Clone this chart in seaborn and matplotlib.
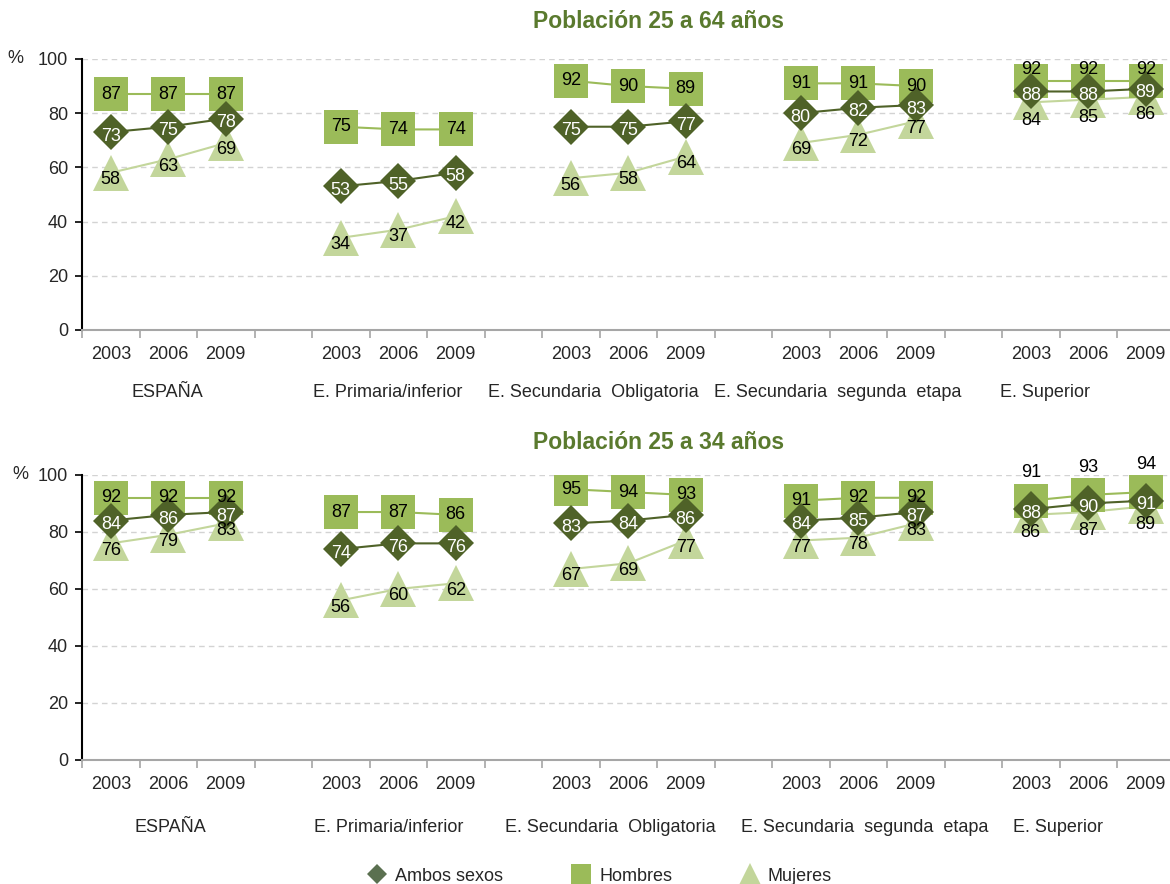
import pandas as pd
import seaborn as sns
import matplotlib.pyplot as plt
from matplotlib.lines import Line2D

# datos
anios = ["2003", "2006", "2009"]
grupos = ["ESPAÑA", "E. Primaria/inferior", "E. Secundaria  Obligatoria",
          "E. Secundaria  segunda  etapa", "E. Superior"]
series = ["Ambos sexos", "Hombres", "Mujeres"]

# Poblacion 25 a 64 anos
ambos_64 = [73, 75, 78, 53, 55, 58, 75, 75, 77, 80, 82, 83, 88, 88, 89]
hombres_64 = [87, 87, 87, 75, 74, 74, 92, 90, 89, 91, 91, 90, 92, 92, 92]
mujeres_64 = [58, 63, 69, 34, 37, 42, 56, 58, 64, 69, 72, 77, 84, 85, 86]

# Poblacion 25 a 34 anos
ambos_34 = [84, 86, 87, 74, 76, 76, 83, 84, 86, 84, 85, 87, 88, 90, 91]
hombres_34 = [92, 92, 92, 87, 87, 86, 95, 94, 93, 91, 92, 92, 91, 93, 94]
mujeres_34 = [76, 79, 83, 56, 60, 62, 67, 69, 77, 77, 78, 83, 86, 87, 89]

colores = {"Ambos sexos": "#4F6228", "Hombres": "#9BBB59", "Mujeres": "#C3D69B"}
marcadores = {"Ambos sexos": ("D", 18.5), "Hombres": ("s", 25), "Mujeres": ("^", 26)}
color_texto = {"Ambos sexos": "white", "Hombres": "black", "Mujeres": "black"}
desplaz = {"Ambos sexos": -3, "Hombres": 0, "Mujeres": -5}  # puntos


def hacer_df(ambos, hombres, mujeres):
    filas = []
    for s, vals in zip(series, [ambos, hombres, mujeres]):
        for i, v in enumerate(vals):
            g = i // 3
            filas.append({"serie": s, "grupo": grupos[g], "anio": anios[i % 3],
                          "pos": g * 4 + i % 3, "valor": v})
    return pd.DataFrame(filas)


paneles = [
    ("Población 25 a 64 años", hacer_df(ambos_64, hombres_64, mujeres_64),
     [82 / 1170, 0.6267, 0.9338, 0.3066], [0.99, 4.82, 8.40, 12.64, 16.24], 8),
    ("Población 25 a 34 años", hacer_df(ambos_34, hombres_34, mujeres_34),
     [82 / 1170, 0.1403, 0.9338, 0.3224], [1.03, 4.83, 8.68, 13.11, 16.47], 20),
]

sns.set_theme(style="white")
plt.rcParams["font.family"] = ["Liberation Sans", "DejaVu Sans"]

fig = plt.figure(figsize=(11.7, 8.84), dpi=100)

for titulo, df, rect, pos_grupos, off_sup in paneles:
    arriba = off_sup == 8
    ax = fig.add_axes(rect)
    # dibujamos primero mujeres, luego hombres y encima ambos sexos
    for s in ["Mujeres", "Hombres", "Ambos sexos"]:
        m, ms = marcadores[s]
        sns.lineplot(data=df[df.serie == s], x="pos", y="valor", units="grupo",
                     estimator=None, color=colores[s], marker=m, markersize=ms,
                     markeredgewidth=0, linewidth=1.5, ax=ax, legend=False)
    # etiquetas de valores
    for _, r in df.iterrows():
        dy = desplaz[r.serie]
        if r.grupo == "E. Superior" and r.serie == "Hombres":
            dy = off_sup
        elif r.grupo == "E. Superior" and r.serie == "Mujeres":
            dy = -13
        ax.annotate(str(r.valor), (r.pos, r.valor), xytext=(0, dy),
                    textcoords="offset points", ha="center", va="center",
                    fontsize=13, color=color_texto[r.serie], zorder=10)

    ax.set_xlim(-0.5, 18.5)
    ax.set_ylim(0, 100)
    ax.set_yticks(range(0, 101, 20))
    ax.set_xticks([x - 0.5 for x in range(20)])
    ax.set_xticklabels([])
    ax.set_xlabel("")
    ax.set_ylabel("")
    for y in range(20, 101, 20):
        ax.axhline(y, color="#D3D3D3", linestyle=(0, (4, 3)), linewidth=1, zorder=0)
    for lado in ["top", "right"]:
        ax.spines[lado].set_visible(False)
    ax.spines["left"].set_color("black")
    ax.spines["left"].set_linewidth(1.5)
    ax.spines["bottom"].set_color("#A6A6A6")
    ax.spines["bottom"].set_linewidth(1.5)
    ax.tick_params(axis="y", left=True, length=5, width=1.2, color="black",
                   labelsize=13, pad=5)
    ax.tick_params(axis="x", bottom=True, length=6, width=1.2, color="#A6A6A6")

    # etiquetas de anios y grupos debajo del eje
    trans = ax.get_xaxis_transform()
    alto = rect[3] * 884
    for g in range(len(grupos)):
        for k, a in enumerate(anios):
            ax.text(g * 4 + k, -25 / alto, a, transform=trans, ha="center",
                    va="center", fontsize=13)
        ax.text(pos_grupos[g], (-63 if arriba else -68) / alto, grupos[g],
                transform=trans, ha="center", va="center", fontsize=13)

    fig.text(0.563, rect[1] + rect[3] + (37 if arriba else 32) / 884, titulo,
             ha="center", va="center", fontsize=16.5, fontweight="bold",
             color="#5A7A2E")
    fig.text((15 if arriba else 20) / 1170, rect[1] + rect[3], "%",
             ha="center", va="center", fontsize=13)

tam_leyenda = {"Ambos sexos": 10, "Hombres": 14.5, "Mujeres": 16}
handles = [Line2D([], [], linestyle="none", marker=marcadores[s][0],
                  markersize=tam_leyenda[s],
                  markerfacecolor=colores[s] if s != "Ambos sexos" else "#5B7050",
                  markeredgewidth=0) for s in series]
fig.legend(handles, series, loc="center", ncol=3, bbox_to_anchor=(0.513, 0.009),
           frameon=False, fontsize=13, columnspacing=3.8, handlelength=1.0,
           handletextpad=0.5)

fig.savefig("out.png", dpi=100)
